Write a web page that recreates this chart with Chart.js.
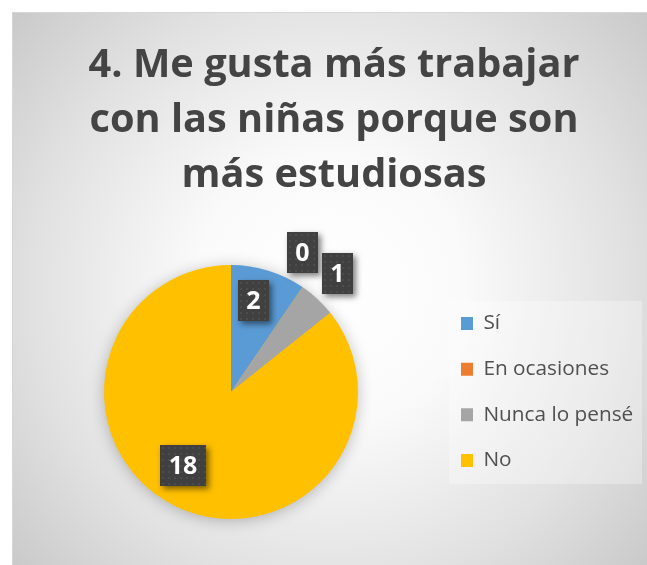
<!DOCTYPE html>
<html><head><meta charset="utf-8">
<script src="https://cdn.jsdelivr.net/npm/chart.js@4"></script>
<style>html,body{margin:0;padding:0;background:#fff;overflow:hidden}#wrap{width:647px;height:565px;position:relative}</style>
</head><body><div id="wrap"><canvas id="c" width="647" height="565"></canvas></div>
<script>
// ---- data ----
const categories = ['Sí', 'En ocasiones', 'Nunca lo pensé', 'No'];
const values = [2, 0, 1, 18];
const colors = ['#5B9BD5', '#ED7D31', '#A5A5A5', '#FFC000'];
const titleLines = ['4. Me gusta más trabajar', 'con las niñas porque son', 'más estudiosas'];

// ---- style / layout ----
const FAMILY = '"Open Sans", "Noto Sans", sans-serif';
const TEXT_COLOR = '#444444';
const LEGEND_COLOR = '#505050';
const W = 647, H = 565;
const mctx = document.createElement('canvas').getContext('2d');
function fitSize(text, weight, target) {
  mctx.font = weight + ' 100px ' + FAMILY;
  return 100 * target / mctx.measureText(text).width;
}
const titleSize = fitSize(titleLines[0], 'bold', 491);
const legendSize = fitSize('Nunca lo pensé', 'normal', 150);
mctx.font = 'bold ' + titleSize + 'px ' + FAMILY;
mctx.textBaseline = 'alphabetic';
const a1 = mctx.measureText('4').actualBoundingBoxAscent;
mctx.textBaseline = 'middle';
const a2 = mctx.measureText('4').actualBoundingBoxAscent;
const midToBase = a1 - a2;

const pieCx = 231, pieTop = 265, pieBottom = 519;
const titleLH = 55, line1Base = 77, padTop = 8;
const tp = (line1Base - midToBase) - titleLH / 2 - padTop;
const tb = pieTop - (padTop + tp + titleLH * titleLines.length);

const boxW = 12, boxH = 13, boxX = 461;
const legendPad = 45.7 - legendSize;
const titleCenter = 334;

const labelPlace = [{f: 0.74, da: -3.2}, {f: 1.23, da: -7.2}, {f: 1.26, da: -0.9}, {f: 0.69, da: 7.4}];

// dotted texture for label boxes
const pat = document.createElement('canvas');
pat.width = 6; pat.height = 6;
const pc = pat.getContext('2d');
pc.fillStyle = '#404040'; pc.fillRect(0, 0, 6, 6);
pc.fillStyle = '#4c4c4c'; pc.fillRect(2, 2, 2, 2);

const bgPlugin = {
  id: 'bg',
  beforeDraw(chart) {
    const c = chart.ctx;
    c.save();
    c.fillStyle = '#ffffff';
    c.fillRect(0, 0, W, H);
    const g = c.createRadialGradient(330, 290, 0, 330, 290, 450);
    g.addColorStop(0, '#ffffff');
    g.addColorStop(0.3, '#fafafa');
    g.addColorStop(0.65, '#e2e2e2');
    g.addColorStop(1, '#c4c4c4');
    c.fillStyle = g;
    c.fillRect(12, 12, W, H);
    c.strokeStyle = '#d6d6d6';
    c.lineWidth = 1;
    c.strokeRect(12.5, 12.5, W, H);
    const hb = chart.legend.legendHitBoxes;
    if (hb && hb.length) {
      const top = hb[0].top - 12;
      const bottom = hb[hb.length - 1].top + hb[hb.length - 1].height + 13;
      const left = hb[0].left - 12;
      c.fillStyle = 'rgba(255,255,255,0.3)';
      c.fillRect(left, top, 642 - left, bottom - top);
    }
    c.restore();
  },
  afterLayout(chart) {
    const t = chart.titleBlock;
    const d = titleCenter - (t.left + t.right) / 2;
    t.left += d; t.right += d;
  }
};

const shadowPlugin = {
  id: 'pieShadow',
  beforeDatasetsDraw(chart) {
    const arc = chart.getDatasetMeta(0).data[0];
    if (!arc) return;
    const p = arc.getProps(['x', 'y', 'outerRadius'], true);
    const c = chart.ctx;
    c.save();
    c.shadowColor = 'rgba(0,0,0,0.28)';
    c.shadowBlur = 16;
    c.shadowOffsetX = 0; c.shadowOffsetY = 2;
    c.fillStyle = '#FFC000';
    c.beginPath();
    c.arc(p.x, p.y, p.outerRadius - 1, 0, Math.PI * 2);
    c.fill();
    c.restore();
  }
};

const labelPlugin = {
  id: 'boxLabels',
  afterDatasetsDraw(chart) {
    const meta = chart.getDatasetMeta(0);
    const c = chart.ctx;
    const data = chart.data.datasets[0].data;
    c.save();
    c.font = 'bold 25px ' + FAMILY;
    meta.data.forEach((arc, i) => {
      const p = arc.getProps(['x', 'y', 'startAngle', 'endAngle', 'outerRadius'], true);
      const pl = labelPlace[i];
      const a = (p.startAngle + p.endAngle) / 2 + pl.da * Math.PI / 180;
      const cx = p.x + Math.cos(a) * p.outerRadius * pl.f;
      const cy = p.y + Math.sin(a) * p.outerRadius * pl.f;
      const txt = String(data[i]);
      const tw = c.measureText(txt).width;
      const bw = Math.round(tw + 17), bh = 41;
      const x0 = Math.round(cx - bw / 2), y0 = Math.round(cy - bh / 2);
      c.save();
      c.shadowColor = 'rgba(0,0,0,0.5)';
      c.shadowBlur = 6;
      c.shadowOffsetX = 3; c.shadowOffsetY = 3;
      c.fillStyle = '#404040';
      c.fillRect(x0, y0, bw, bh);
      c.restore();
      c.save();
      c.translate(x0, y0);
      c.fillStyle = c.createPattern(pat, 'repeat');
      c.fillRect(0, 0, bw, bh);
      c.restore();
      c.fillStyle = '#ffffff';
      c.textAlign = 'center';
      c.textBaseline = 'middle';
      c.fillText(txt, x0 + bw / 2, y0 + bh / 2 + 1);
    });
    c.restore();
  }
};

const padding = {left: 20, right: 10, top: padTop, bottom: H - pieBottom};
const chart = new Chart(document.getElementById('c'), {
  type: 'pie',
  data: {
    labels: categories,
    datasets: [{data: values, backgroundColor: colors, borderWidth: 0}]
  },
  options: {
    responsive: false,
    animation: false,
    devicePixelRatio: 1,
    layout: {padding: padding},
    plugins: {
      title: {
        display: true, text: titleLines, color: TEXT_COLOR,
        font: {family: FAMILY, size: titleSize, weight: 'bold', lineHeight: titleLH + 'px'},
        padding: {top: tp, bottom: tb}
      },
      legend: {
        position: 'right', align: 'center', fullSize: false,
        labels: {boxWidth: boxW, boxHeight: boxH, padding: legendPad, color: LEGEND_COLOR,
          font: {family: FAMILY, size: legendSize}}
      },
      tooltip: {enabled: false}
    }
  },
  plugins: [bgPlugin, shadowPlugin, labelPlugin]
});

// second layout pass: place legend box column and pie centre where the reference has them
const hb0 = chart.legend.legendHitBoxes[0].left;
const dx = boxX - hb0;
const newRight = padding.right - dx;
const areaRight = chart.chartArea.right + dx;
chart.options.layout.padding = {left: 2 * pieCx - areaRight, right: newRight, top: padTop, bottom: H - pieBottom};
chart.update();
</script></body></html>
